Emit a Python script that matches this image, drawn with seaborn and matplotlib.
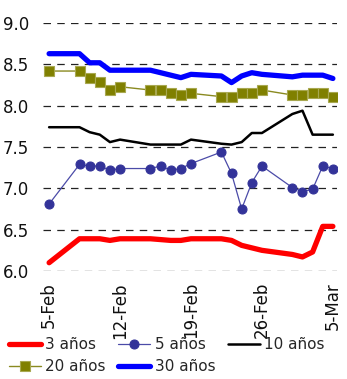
import matplotlib
matplotlib.use("Agg")
import matplotlib.pyplot as plt
import matplotlib.ticker as mticker
import pandas as pd
import seaborn as sns

# Business days, 5 Feb - 5 Mar 2010
dates = pd.to_datetime([
    "2010-02-05",
    "2010-02-08", "2010-02-09", "2010-02-10", "2010-02-11", "2010-02-12",
    "2010-02-15", "2010-02-16", "2010-02-17", "2010-02-18", "2010-02-19",
    "2010-02-22", "2010-02-23", "2010-02-24", "2010-02-25", "2010-02-26",
    "2010-03-01", "2010-03-02", "2010-03-03", "2010-03-04", "2010-03-05",
])

y3 = [6.10, 6.39, 6.39, 6.39, 6.37, 6.39, 6.39, 6.38, 6.37, 6.37, 6.39,
      6.39, 6.37, 6.31, 6.28, 6.25, 6.20, 6.17, 6.23, 6.54, 6.54]
y5 = [6.81, 7.29, 7.27, 7.27, 7.22, 7.24, 7.24, 7.27, 7.22, 7.24, 7.30,
      7.44, 7.18, 6.75, 7.07, 7.27, 7.01, 6.96, 6.99, 7.27, 7.24]
y10 = [7.74, 7.74, 7.68, 7.65, 7.56, 7.59, 7.53, 7.53, 7.53, 7.53, 7.59,
       7.54, 7.53, 7.56, 7.67, 7.67, 7.90, 7.94, 7.65, 7.65, 7.65]
y20 = [8.42, 8.42, 8.33, 8.29, 8.19, 8.23, 8.19, 8.19, 8.16, 8.13, 8.15,
       8.11, 8.10, 8.15, 8.15, 8.19, 8.13, 8.13, 8.15, 8.15, 8.11]
y30 = [8.63, 8.63, 8.52, 8.52, 8.43, 8.43, 8.43, 8.40, 8.37, 8.34, 8.38,
       8.36, 8.28, 8.36, 8.40, 8.38, 8.35, 8.37, 8.37, 8.37, 8.33]

labels = ["3 años", "5 años", "10 años", "20 años", "30 años"]
y_ticks = [6.0, 6.5, 7.0, 7.5, 8.0, 8.5, 9.0]
x_ticks = pd.to_datetime(["2010-02-05", "2010-02-12", "2010-02-19",
                          "2010-02-26", "2010-03-05"])

sns.set_theme(style="white")
plt.rcParams["font.family"] = ["DejaVu Sans"]
fsize = 12

fig = plt.figure(figsize=(3.47, 3.79), dpi=100)
ax = fig.add_axes([0.124, 0.285, 0.847, 0.654])

styles = {
    "3 años": dict(color="#FF0000", linewidth=3.8, zorder=4),
    "5 años": dict(color="#4B4BA8", linewidth=0.9, marker="o", markersize=6.5,
                   markerfacecolor="#333399", markeredgecolor="#333399", zorder=5),
    "10 años": dict(color="#000000", linewidth=1.8, zorder=4),
    "20 años": dict(color="#8A8A20", linewidth=1.0, marker="s", markersize=6.5,
                    markerfacecolor="#808000", markeredgecolor="#A8A850",
                    markeredgewidth=0.8, zorder=5),
    "30 años": dict(color="#0000FF", linewidth=3.8, zorder=4),
}

for name, vals in zip(labels, [y3, y5, y10, y20, y30]):
    df = pd.DataFrame({"fecha": dates, "tasa": vals})
    sns.lineplot(data=df, x="fecha", y="tasa", ax=ax, label=name,
                 solid_capstyle="round", **styles[name])

ax.set_ylim(6.0, 9.0)
ax.set_xlim(dates[0] - pd.Timedelta(days=0.6), dates[-1] + pd.Timedelta(days=0.4))
ax.set_yticks(y_ticks)
ax.yaxis.set_major_formatter(mticker.FormatStrFormatter("%.1f"))
ax.set_xticks(x_ticks)
ax.set_xticklabels([f"{d.day}-{d.strftime('%b')}" for d in x_ticks], rotation=90)
ax.set_xlabel("")
ax.set_ylabel("")

for v in y_ticks:
    ax.axhline(v, color="#222222", linewidth=0.9, linestyle=(0, (6, 5)), zorder=1)

for s in ax.spines.values():
    s.set_visible(False)
ax.tick_params(axis="both", length=0, labelsize=fsize, colors="#111111")
ax.tick_params(axis="y", pad=10)
ax.tick_params(axis="x", pad=8)
ax.grid(False)

handles, labs = ax.get_legend_handles_labels()
ax.get_legend().remove()
order = [0, 3, 1, 4, 2]
fig.legend([handles[i] for i in order], [labs[i] for i in order],
           loc="upper left", bbox_to_anchor=(0.025, 0.11), ncol=3, frameon=False,
           fontsize=11, handlelength=2.1, handletextpad=0.3,
           columnspacing=0.8, labelspacing=0.45, borderpad=0, borderaxespad=0)

fig.savefig("out.png", dpi=100)
